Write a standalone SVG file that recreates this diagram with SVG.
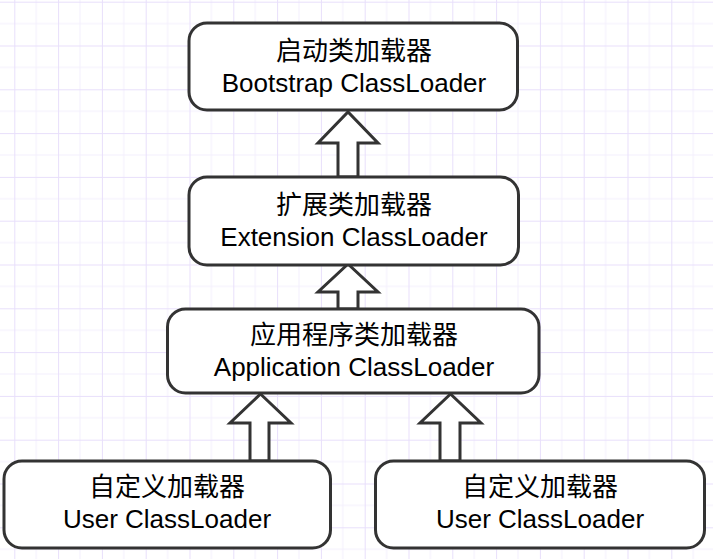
<svg xmlns="http://www.w3.org/2000/svg" width="713" height="559" viewBox="0 0 713 559">
<defs>
<pattern id="grid" patternUnits="userSpaceOnUse" x="14.3" y="1.7" width="43.8" height="43.8">
<path d="M21.9,0V43.8M0,21.9H43.8" stroke="#f3effd" stroke-width="1" fill="none"/>
<path d="M0.5,0V43.8M0,0.5H43.8" stroke="#e8dffb" stroke-width="1" fill="none"/>
</pattern>
</defs>
<style>
.box{fill:#fff;stroke:#333;stroke-width:3}
.arr{fill:#fff;stroke:#333;stroke-width:3;stroke-linejoin:miter}
.t{font-family:"Liberation Sans","Noto Sans CJK SC",sans-serif;font-size:26px;fill:#000;text-anchor:middle}
.c{font-family:"Noto Sans CJK SC","Liberation Sans",sans-serif;font-size:26px;fill:#000;text-anchor:middle}
</style>
<rect width="713" height="559" fill="#fff"/>
<rect width="713" height="559" fill="url(#grid)"/>
<g id="connectors">
<path class="arr" d="M338,177V143H318L348,112L378,143H358V177Z"/>
<path class="arr" d="M338,309V292H318L348,264L378,292H358V309Z"/>
<path class="arr" d="M250,461V423H230L260.5,394L291,423H269V461Z"/>
<path class="arr" d="M440,461V423H420L450.5,394L481,423H460V461Z"/>
</g>
<g id="bootstrap">
<rect class="box" x="189" y="23" width="328.5" height="87" rx="18"/>
<text class="c" x="354" y="60">启动类加载器</text>
<text class="t" x="354" y="92">Bootstrap ClassLoader</text>
</g>
<g id="extension">
<rect class="box" x="189" y="177" width="329.5" height="88" rx="18"/>
<text class="c" x="354" y="214">扩展类加载器</text>
<text class="t" x="354" y="246">Extension ClassLoader</text>
</g>
<g id="application">
<rect class="box" x="167.5" y="309" width="371.5" height="84" rx="18"/>
<text class="c" x="354" y="344">应用程序类加载器</text>
<text class="t" x="354" y="376">Application ClassLoader</text>
</g>
<g id="user1">
<rect class="box" x="4" y="461" width="326.5" height="87" rx="18"/>
<text class="c" x="167" y="496">自定义加载器</text>
<text class="t" x="167" y="528">User ClassLoader</text>
</g>
<g id="user2">
<rect class="box" x="375.5" y="461" width="329" height="87" rx="18"/>
<text class="c" x="540" y="496">自定义加载器</text>
<text class="t" x="540" y="528">User ClassLoader</text>
</g>
</svg>
